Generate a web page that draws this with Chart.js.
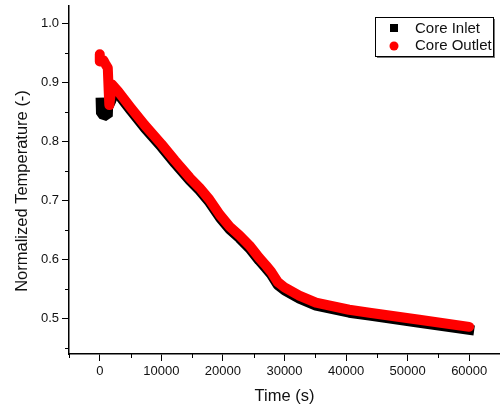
<!DOCTYPE html>
<html>
<head>
<meta charset="utf-8">
<script src="https://cdn.jsdelivr.net/npm/chart.js@4.4.0/dist/chart.umd.min.js"></script>
<style>
  body { margin: 0; background: #fff; }
</style>
</head>
<body>
<canvas id="tempChart" width="500" height="407"></canvas>
<script>
const inletTime = [150, 200, 1300, 1350, 1900, 2200, 3000, 5000, 7300, 10000, 12200, 14600, 16200, 17800, 19500, 21100, 22700, 24300, 25900, 27000, 27800, 28900, 30000, 32400, 35100, 40500, 43800, 51900, 60000];
const inletTemp = [0.866, 0.847, 0.843, 0.858, 0.870, 0.886, 0.880, 0.853, 0.823, 0.791, 0.763, 0.734, 0.717, 0.697, 0.671, 0.651, 0.636, 0.619, 0.598, 0.585, 0.575, 0.557, 0.548, 0.534, 0.522, 0.510, 0.505, 0.493, 0.481];

const outletTime = [0, 0, 600, 1000, 1300, 1450, 1550, 1700, 2000, 3000, 5000, 7300, 10000, 12200, 14600, 16200, 17800, 19500, 21100, 22700, 24300, 25900, 27000, 27800, 28900, 30000, 32400, 35100, 40500, 43800, 51900, 60000];
const outletTemp = [0.948, 0.936, 0.938, 0.930, 0.925, 0.885, 0.862, 0.875, 0.897, 0.885, 0.858, 0.828, 0.796, 0.768, 0.739, 0.722, 0.702, 0.676, 0.656, 0.641, 0.624, 0.603, 0.590, 0.580, 0.562, 0.553, 0.539, 0.527, 0.515, 0.510, 0.498, 0.486];

const xTicks = [0, 10000, 20000, 30000, 40000, 50000, 60000];
const xMinor = [-5000, 5000, 15000, 25000, 35000, 45000, 55000, 65000];
const yTicks = [0.5, 0.6, 0.7, 0.8, 0.9, 1.0];
const yMinor = [0.45, 0.55, 0.65, 0.75, 0.85, 0.95];

const FONT = "'Liberation Sans', Arial, sans-serif";

function pts(xs, ys) {
    return xs.map((x, i) => ({ x: x, y: ys[i] }));
}

// minor ticks, y title and the boxed legend inside the plot
const extras = {
    id: 'extras',
    afterDraw(chart) {
        const ctx = chart.ctx;
        const xs = chart.scales.x, ys = chart.scales.y;
        const area = chart.chartArea;
        ctx.save();
        ctx.strokeStyle = '#000';
        ctx.lineWidth = 1;
        ctx.beginPath();
        for (const v of yMinor) {
            const p = Math.round(ys.getPixelForValue(v)) + 0.5;
            ctx.moveTo(area.left - 4, p);
            ctx.lineTo(area.left, p);
        }
        for (const v of xMinor) {
            const p = Math.round(xs.getPixelForValue(v)) + 0.5;
            ctx.moveTo(p, area.bottom);
            ctx.lineTo(p, area.bottom + 4);
        }
        ctx.stroke();

        // y axis title
        ctx.fillStyle = '#111';
        ctx.font = '16.5px ' + FONT;
        ctx.textAlign = 'center';
        ctx.textBaseline = 'middle';
        ctx.translate(22, 191);
        ctx.rotate(-Math.PI / 2);
        ctx.fillText('Normalized Temperature (-)', 0, 0);
        ctx.restore();

        // legend
        ctx.save();
        const bx = area.right - 125, by = area.top + 11, bw = 118, bh = 39;
        ctx.fillStyle = '#777';
        ctx.fillRect(bx + 2, by + 2, bw, bh);
        ctx.fillStyle = '#fff';
        ctx.fillRect(bx, by, bw, bh);
        ctx.strokeStyle = '#000';
        ctx.lineWidth = 1;
        ctx.strokeRect(bx + 0.5, by + 0.5, bw, bh);
        ctx.fillStyle = '#000';
        ctx.fillRect(bx + 15, by + 7, 8, 8);
        ctx.fillStyle = '#ff0000';
        ctx.beginPath();
        ctx.arc(bx + 19, by + 29, 4.5, 0, Math.PI * 2);
        ctx.fill();
        ctx.fillStyle = '#111';
        ctx.font = '15px ' + FONT;
        ctx.textAlign = 'left';
        ctx.textBaseline = 'middle';
        ctx.fillText('Core Inlet', bx + 40, by + 11.5);
        ctx.fillText('Core Outlet', bx + 40, by + 29);
        ctx.restore();
    }
};

new Chart(document.querySelector('#tempChart'), {
    type: 'line',
    data: {
        datasets: [
            {
                label: 'Core Inlet',
                data: pts(inletTime, inletTemp),
                borderColor: '#000000',
                backgroundColor: '#000000',
                borderWidth: 10,
                borderCapStyle: 'square',
                borderJoinStyle: 'bevel',
                pointRadius: 0,
                order: 1,
            },
            {
                label: 'Core Outlet',
                data: pts(outletTime, outletTemp),
                borderColor: '#ff0000',
                backgroundColor: '#ff0000',
                borderWidth: 10,
                borderCapStyle: 'round',
                borderJoinStyle: 'round',
                pointRadius: 0,
                order: 0,
            },
        ],
    },
    options: {
        responsive: false,
        animation: false,
        layout: { padding: { top: 6, left: 0, right: 0, bottom: 0 } },
        plugins: {
            legend: { display: false },
            tooltip: { enabled: false },
        },
        scales: {
            x: {
                type: 'linear',
                min: -5000,
                max: 65000,
                afterBuildTicks: (s) => { s.ticks = xTicks.map(v => ({ value: v })); },
                afterFit: (s) => { s.height = 53; s.paddingLeft = 0; s.paddingRight = 0; },
                border: { display: true, color: '#000', width: 1.5 },
                grid: { drawOnChartArea: false, tickLength: 7, tickColor: '#000', tickWidth: 1 },
                ticks: {
                    color: '#111',
                    font: { family: FONT, size: 13 },
                    maxRotation: 0,
                    callback: (v) => String(v),
                },
                title: {
                    display: true,
                    text: 'Time (s)',
                    color: '#111',
                    font: { family: FONT, size: 16.5 },
                    padding: { top: 0, bottom: 1 },
                },
            },
            y: {
                min: 0.44,
                max: 1.03,
                afterBuildTicks: (s) => { s.ticks = yTicks.map(v => ({ value: v })); },
                afterFit: (s) => { s.width = 69; s.paddingTop = 0; s.paddingBottom = 0; },
                border: { display: true, color: '#000', width: 1.5 },
                grid: { drawOnChartArea: false, tickLength: 7, tickColor: '#000', tickWidth: 1 },
                ticks: {
                    color: '#111',
                    font: { family: FONT, size: 13 },
                    callback: (v) => v.toFixed(1),
                },
            },
        },
    },
    plugins: [extras],
});
</script>
</body>
</html>
